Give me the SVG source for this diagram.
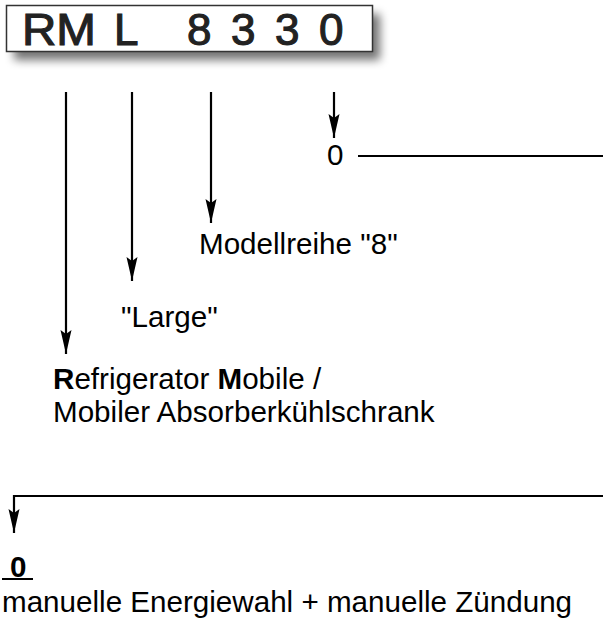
<svg xmlns="http://www.w3.org/2000/svg" width="603" height="620" viewBox="0 0 603 620">
<defs>
<filter id="sh" x="-10%" y="-40%" width="130%" height="200%">
<feGaussianBlur stdDeviation="5"/>
</filter>
<marker id="ah" markerUnits="userSpaceOnUse" markerWidth="26" markerHeight="14" viewBox="-24 -7 26 14" refX="0" refY="0" orient="auto" overflow="visible">
<path d="M0,0 L-24,-5.5 L-20,0 L-24,5.5 Z" fill="#000"/>
</marker>
</defs>
<style>
.t{font-family:"Liberation Sans",Arial,sans-serif;font-size:29.6px;fill:#000}
.c{fill:none;stroke:#000;stroke-width:2.2}
.code{font-family:"Liberation Sans",Arial,sans-serif;font-size:44px;fill:#222;stroke:#222;stroke-width:1.1}
</style>
<rect width="603" height="620" fill="#fff"/>
<g id="label-box">
<rect x="14" y="14" width="366" height="46" fill="#000" opacity="0.55" filter="url(#sh)"/>
<rect x="6.5" y="5.5" width="366" height="46" fill="#fff" stroke="#333" stroke-width="1.5"/>
<text class="code" y="45"><tspan x="22" textLength="74" lengthAdjust="spacingAndGlyphs">RM</tspan><tspan x="114">L</tspan><tspan x="187">8</tspan><tspan x="231">3</tspan><tspan x="275">3</tspan><tspan x="319">0</tspan></text>
</g>
<g id="connectors">
<path class="c" d="M66,92 V354" marker-end="url(#ah)"/>
<path class="c" d="M132,92 V281" marker-end="url(#ah)"/>
<path class="c" d="M211,92 V223" marker-end="url(#ah)"/>
<path class="c" d="M334,92 V138" marker-end="url(#ah)"/>
<path class="c" d="M358,156 H606"/>
<path class="c" d="M606,496 H14 V533" marker-end="url(#ah)"/>
</g>
<g id="node-0-top"><text class="t" x="327" y="165">0</text></g>
<g id="node-modellreihe"><text class="t" x="199" y="254">Modellreihe "8"</text></g>
<g id="node-large"><text class="t" x="121" y="327">"Large"</text></g>
<g id="node-rm">
<text class="t" x="53" y="389"><tspan font-weight="bold">R</tspan>efrigerator <tspan font-weight="bold">M</tspan>obile /</text>
<text class="t" x="53" y="422">Mobiler Absorberkühlschrank</text>
</g>
<g id="node-0-bottom">
<text class="t" x="10" y="577" font-weight="bold">0</text>
<line x1="2" y1="579" x2="33" y2="579" stroke="#000" stroke-width="2"/>
<text class="t" x="2" y="612">manuelle Energiewahl + manuelle Zündung</text>
</g>
</svg>
